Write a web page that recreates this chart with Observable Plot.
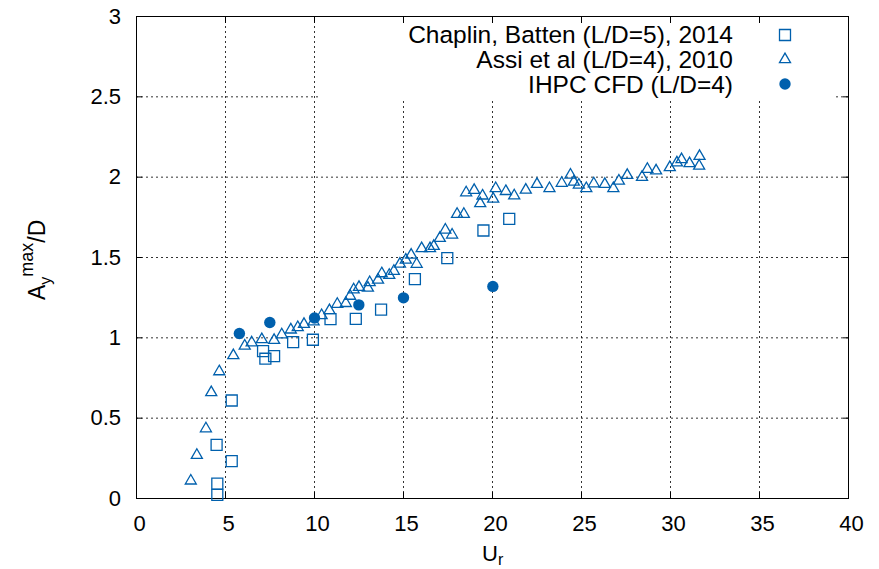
<!DOCTYPE html>
<html>
<head>
<meta charset="utf-8">
<script src="https://cdn.jsdelivr.net/npm/d3@7"></script>
<script src="https://cdn.jsdelivr.net/npm/@observablehq/plot@0.6"></script>
<style>
  body { margin: 0; background: #fff; }
  #chart { width: 879px; height: 569px; }
  svg { display: block; }
</style>
</head>
<body>
<div id="chart"></div>
<script>
// ---- Data ----
const seriesNames = ["Chaplin, Batten (L/D=5), 2014", "Assi et al (L/D=4), 2010", "IHPC CFD (L/D=4)"];

const chaplinUr = [4.54, 4.54, 4.5, 5.35, 5.35, 7.11, 7.24, 7.73, 8.8, 9.91, 10.9, 12.32, 13.74, 15.64, 17.46, 19.49, 20.94];
const chaplinAy = [0.023, 0.093, 0.334, 0.233, 0.61, 0.917, 0.87, 0.886, 0.973, 0.988, 1.116, 1.118, 1.176, 1.365, 1.496, 1.668, 1.74];

const assiUr = [3.05, 3.39, 3.9, 4.2, 4.65, 5.44, 6.08, 6.47, 7.04, 7.73, 8.16, 8.67, 9.06, 9.41, 9.95,
  10.4, 10.84, 11.28, 11.76, 12.0, 12.2, 12.5, 13.0, 13.1, 13.57, 13.78, 14.2, 14.46, 14.8, 15.13, 15.43, 15.74,
  16.02, 16.49, 16.7, 17.04, 17.35, 17.73, 18.01, 18.39, 18.52, 18.97, 19.31, 19.44, 20.04, 20.18, 20.75, 21.22,
  21.87, 22.5, 23.2, 23.89, 24.38, 24.57, 24.85, 25.27, 25.69, 26.31, 26.79, 27.1, 27.57, 28.4, 28.7, 29.19,
  29.96, 30.36, 30.62, 31.07, 31.63, 31.61];
const assiAy = [0.11, 0.27, 0.435, 0.66, 0.79, 0.89, 0.95, 0.97, 0.99, 0.985, 1.02, 1.05, 1.065, 1.085, 1.1,
  1.14, 1.17, 1.21, 1.215, 1.26, 1.30, 1.315, 1.31, 1.345, 1.36, 1.40, 1.39, 1.415, 1.46, 1.485, 1.516, 1.459,
  1.556, 1.556, 1.57, 1.62, 1.672, 1.641, 1.77, 1.77, 1.904, 1.919, 1.836, 1.884, 1.864, 1.93, 1.912, 1.885,
  1.92, 1.956, 1.93, 1.963, 2.014, 1.97, 1.952, 1.93, 1.96, 1.956, 1.93, 1.977, 2.012, 2.0, 2.05, 2.04,
  2.06, 2.09, 2.11, 2.085, 2.13, 2.07];

const ihpcUr = [5.78, 7.49, 10.0, 12.49, 15.0, 20.02];
const ihpcAy = [1.027, 1.095, 1.123, 1.205, 1.249, 1.32];

const xTicks = [0, 5, 10, 15, 20, 25, 30, 35, 40];
const xTickLabels = ["0", "5", "10", "15", "20", "25", "30", "35", "40"];
const yTicks = [0, 0.5, 1, 1.5, 2, 2.5, 3];
const yTickLabels = ["0", "0.5", "1", "1.5", "2", "2.5", "3"];

// ---- Build tables ----
const chaplin = chaplinUr.map((u, i) => ({u, a: chaplinAy[i]}));
const assi = assiUr.map((u, i) => ({u, a: assiAy[i]}));
const ihpc = ihpcUr.map((u, i) => ({u, a: ihpcAy[i]}));

const blue = "#0060ad";
const font = "'Liberation Sans', Arial, Helvetica, sans-serif";
const gridStyle = {stroke: "#000", strokeOpacity: 0.8, strokeWidth: 1, strokeDasharray: "2,3"};

const svg = Plot.plot({
  width: 879,
  height: 569,
  marginLeft: 136,
  marginRight: 31,
  marginTop: 16,
  marginBottom: 71,
  style: {fontFamily: font, fontSize: "22px", color: "#000", background: "#fff"},
  x: {domain: [0, 40]},
  y: {domain: [0, 3]},
  marks: [
    Plot.ruleX(xTicks.slice(1, -1), gridStyle),
    Plot.ruleY(yTicks.slice(1, -1), gridStyle),
    Plot.axisX({ticks: xTicks, tickSize: -6, tickPadding: 23, label: null,
      tickFormat: d => xTickLabels[xTicks.indexOf(d)], fontSize: 22}),
    Plot.axisX({anchor: "top", ticks: xTicks, tickSize: -6, label: null, tickFormat: () => ""}),
    Plot.axisY({ticks: yTicks, tickSize: -6, tickPadding: 21.5, label: null,
      tickFormat: d => yTickLabels[yTicks.indexOf(d)], fontSize: 22}),
    Plot.axisY({anchor: "right", ticks: yTicks, tickSize: -6, label: null, tickFormat: () => ""}),
    Plot.frame({stroke: "#000", strokeWidth: 1}),
    Plot.dot(chaplin, {x: "u", y: "a", symbol: "square", r: 6.2, stroke: blue, strokeWidth: 1.3, fill: "none"}),
    Plot.dot(assi, {x: "u", y: "a", symbol: "triangle", r: 4.1, stroke: blue, strokeWidth: 1.3, fill: "none"}),
    Plot.dot(ihpc, {x: "u", y: "a", symbol: "circle", r: 5.7, fill: blue, stroke: "none"})
  ]
});

document.getElementById("chart").appendChild(svg);

// nudge x tick labels slightly right, as in the reference
svg.querySelectorAll("g[aria-label='x-axis tick label'] text").forEach(t => t.setAttribute("dx", 3));

// ---- Legend box (opaque, hides the grid behind it) ----
const ns = "http://www.w3.org/2000/svg";
const firstAxis = svg.querySelector("g[aria-label='x-axis tick']");
const box = document.createElementNS(ns, "rect");
box.setAttribute("x", 318); box.setAttribute("y", 23);
box.setAttribute("width", 516); box.setAttribute("height", 75);
box.setAttribute("fill", "#fff");
if (firstAxis) svg.insertBefore(box, firstAxis); else svg.appendChild(box);

const sel = d3.select(svg);
const legend = sel.append("g").attr("font-family", font).attr("font-size", 24.5);
const baselines = [43, 68, 93];
const symY = [35, 59.5, 84];
seriesNames.forEach((name, i) => {
  legend.append("text").attr("x", 733).attr("y", baselines[i]).attr("text-anchor", "end")
    .attr("fill", "#000").text(name);
});
const symGen = [d3.symbolSquare, d3.symbolTriangle, d3.symbolCircle];
const symR = [6.2, 4.1, 5.7];
symGen.forEach((s, i) => {
  legend.append("path")
    .attr("d", d3.symbol(s, Math.PI * symR[i] * symR[i])())
    .attr("transform", `translate(785,${symY[i]})`)
    .attr("fill", i === 2 ? blue : "none")
    .attr("stroke", i === 2 ? "none" : blue)
    .attr("stroke-width", 1.3);
});

// ---- Axis titles ----
const ylab = sel.append("text")
  .attr("font-family", font).attr("font-size", 23).attr("fill", "#000")
  .attr("text-anchor", "start")
  .attr("transform", "translate(45,300) rotate(-90)");
ylab.append("tspan").text("A");
ylab.append("tspan").attr("font-size", 16).attr("dy", 6).text("y");
ylab.append("tspan").attr("font-size", 18).attr("dy", -18).text("max");
ylab.append("tspan").attr("dy", 12).text("/D");

const xlab = sel.append("text")
  .attr("font-family", font).attr("font-size", 22).attr("fill", "#000")
  .attr("text-anchor", "start")
  .attr("x", 482).attr("y", 561);
xlab.append("tspan").text("U");
xlab.append("tspan").attr("font-size", 16).attr("dy", 4).text("r");
</script>
</body>
</html>
